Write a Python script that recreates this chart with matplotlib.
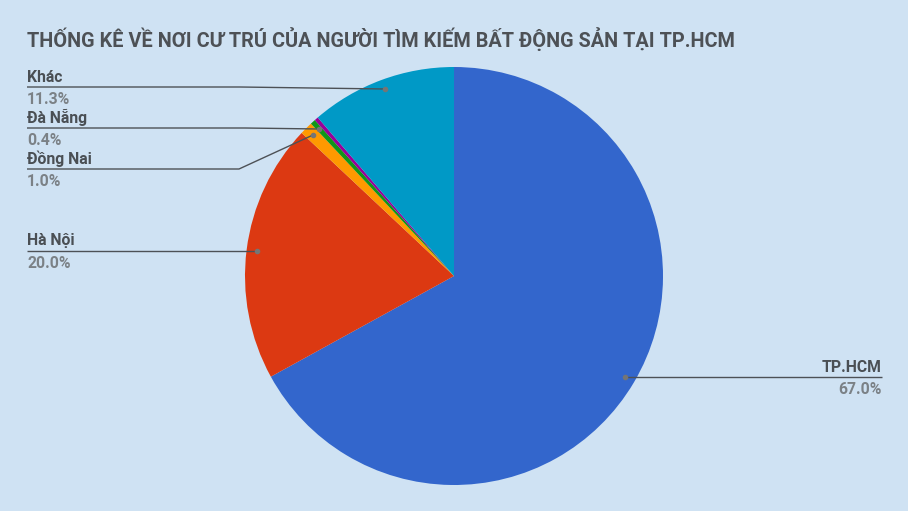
import matplotlib
matplotlib.use("Agg")
import matplotlib.pyplot as plt

# data
names = ["TP.HCM", "Hà Nội", "Đồng Nai", "Đà Nẵng", "Khác (nhỏ)", "Khác"]
values = [67.0, 20.0, 1.0, 0.4, 0.3, 11.3]
colors = ["#3366cc", "#dc3912", "#ff9900", "#109618", "#990099", "#0099c6"]
show_label = [True, True, True, True, False, True]

title = "THỐNG KÊ VỀ NƠI CƯ TRÚ CỦA NGƯỜI TÌM KIẾM BẤT ĐỘNG SẢN TẠI TP.HCM"

plt.rcParams['font.family'] = ['Roboto', 'DejaVu Sans']
bg = "#cfe2f3"
W, H = 908, 511

fig = plt.figure(figsize=(W / 100, H / 100), dpi=100, facecolor=bg)
ax = fig.add_axes([0, 0, 1, 1])

cx, cy, r = 454, 276, 209
# y axis is inverted, so counterclock=True draws clockwise on screen
wedges, _ = ax.pie(values, colors=colors, startangle=-90, counterclock=True,
                   center=(cx, cy), radius=r, frame=True,
                   wedgeprops=dict(linewidth=0))
ax.set_xlim(0, W)
ax.set_ylim(H, 0)
ax.set_aspect("equal")
ax.axis("off")

ax.text(27, 39.5, title, fontsize=14.35, fontweight="bold", color="#4d5156",
        va="center", ha="left")

name_c = "#4a4f54"
pct_c = "#7b8186"
line_c = "#4d5156"
dot_c = "#757575"

# leader lines: (text x, line y, kink x, dot x, dot y, side)
leaders = {
    "Khác": (27, 87, 240, 385, 89, "left"),
    "Đà Nẵng": (27, 128, 245, 319, 129, "left"),
    "Đồng Nai": (27, 169, 239, 313, 135, "left"),
    "Hà Nội": (27, 251, 250, 257, 251, "left"),
    "TP.HCM": (882, 377, 640, 625, 377, "right"),
}

for name, val, show in zip(names, values, show_label):
    if not show:
        continue
    tx, ly, kx, dx, dy, side = leaders[name]
    ax.plot([tx, kx, dx], [ly, ly, dy], color=line_c, lw=1, solid_capstyle="butt")
    ax.plot([dx], [dy], "o", ms=3, color=dot_c)
    ha = "left" if side == "left" else "right"
    ax.text(tx, ly - 2.5, name, fontsize=11.3, fontweight="bold", color=name_c,
            ha=ha, va="bottom")
    ax.text(tx, ly + 4.5, f"{val:.1f}%", fontsize=11.3, fontweight="bold", color=pct_c,
            ha=ha, va="top")

fig.savefig("out.png", dpi=100, facecolor=bg)
